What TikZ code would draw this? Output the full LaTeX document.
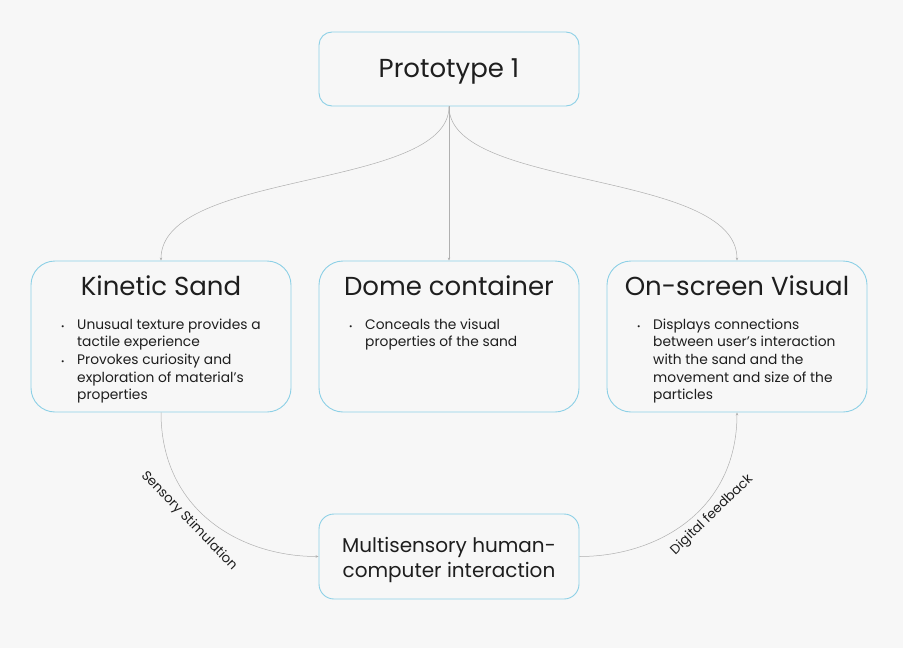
\documentclass[tikz,border=0pt]{standalone}
\usepackage{fontspec}
\setmainfont{Poppins}
\usepackage{graphicx}
\usetikzlibrary{arrows.meta}
\definecolor{bg}{HTML}{F7F7F7}
\definecolor{edge}{HTML}{8DD0E6}
\definecolor{wire}{HTML}{B0B0B0}
\definecolor{ink}{HTML}{1E1E1E}
% bullet item and continuation line
\newcommand\bitem[1]{\makebox[16pt][l]{\scalebox{0.6}{\textbullet}}#1}
\newcommand\bcont[1]{\hspace*{16pt}#1}

\begin{document}
\begin{tikzpicture}[x=1pt,y=-1pt,
  box/.style={draw=edge, line width=0.9pt, fill=bg, minimum width=260pt, inner sep=0pt},
  title/.style={font=\fontsize{26}{30}\selectfont, text=ink, inner sep=0pt},
  body/.style={font=\fontsize{13.8}{17.6}\selectfont, anchor=north west, inner sep=0pt, align=left, text=ink},
  link/.style={draw=wire, line width=0.5pt, -{Stealth[length=3pt,width=2.5pt]}},
  tag/.style={font=\fontsize{13.3}{15}\selectfont, text=ink, inner sep=0pt}]

\fill[bg] (0,0) rectangle (903,648);

% boxes
\node[box, rounded corners=13pt, minimum height=74pt] (proto) at (449,69) {};
\node[box, rounded corners=24pt, minimum height=151pt] (kin) at (161,336.5) {};
\node[box, rounded corners=24pt, minimum height=151pt] (dome) at (449,336.5) {};
\node[box, rounded corners=24pt, minimum height=151pt] (vis) at (737,336.5) {};
\node[box, rounded corners=15pt, minimum height=85pt] (multi) at (449,556.5) {};

% headings
\node[title] (protoT) at (449,71) {Prototype 1};
\node[title] (kinT) at (161,286) {Kinetic Sand};
\node[title] (domeT) at (449,286) {Dome container};
\node[title] (visT) at (737,286) {On-screen Visual};

% bullet texts
\node[body] (kinB) at (61,318.5) {\bitem{Unusual texture provides a}\\
  \bcont{tactile experience}\\
  \bitem{Provokes curiosity and}\\
  \bcont{exploration of material's}\\
  \bcont{properties}};
\node[body] (domeB) at (349,318.5) {\bitem{Conceals the visual}\\
  \bcont{properties of the sand}};
\node[body] (visB) at (637,318.5) {\bitem{Displays connections}\\
  \bcont{between user's interaction}\\
  \bcont{with the sand and the}\\
  \bcont{movement and size of the}\\
  \bcont{particles}};

\node[font=\fontsize{20}{25}\selectfont, text=ink, align=center, inner sep=0pt] (multiT) at (449,560) {Multisensory human-\\computer interaction};

% connectors from the prototype
\draw[link] (proto.south) .. controls +(0,84) and +(0,-91) .. (kin.north);
\draw[link] (proto.south) -- (dome.north);
\draw[link] (proto.south) .. controls +(0,84) and +(0,-91) .. (vis.north);

% loop through the interaction box
\draw[link] (kin.south) .. controls +(0,98) and +(-78,0) .. (multi.west);
\draw[link] (multi.east) .. controls +(78,0) and +(0,98) .. (vis.south);

\node[tag, rotate=-46] (sens) at (189,521) {Sensory Stimulation};
\node[tag, rotate=44] (digi) at (712,515) {Digital feedback};
\end{tikzpicture}
\end{document}
